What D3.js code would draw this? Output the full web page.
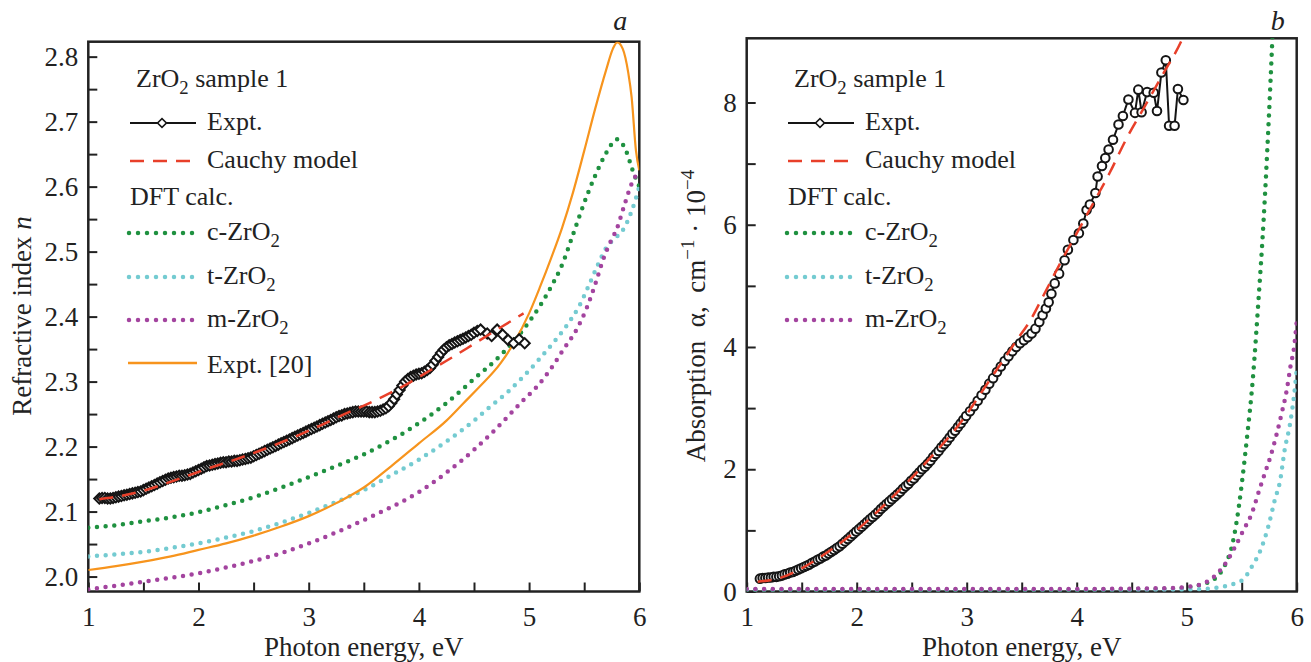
<!DOCTYPE html>
<html>
<head>
<meta charset="utf-8">
<script src="https://cdn.jsdelivr.net/npm/d3@7"></script>
<style>
  body { margin: 0; background: #fff; }
  svg { display: block; font-family: "Liberation Serif", "Times New Roman", serif; }
  text { white-space: pre; }
</style>
</head>
<body>
<div id="container"></div>
<script>
/* CONSTANTS AND GLOBALS */
const width = 1311, height = 662

const colors = { expt: "#151515", cauchy: "#e8402a", c: "#1f9140", t: "#74cbd1", m: "#a3449f", lit: "#f7941d" }

/* TICKS */
const energyTicks = [1, 2, 3, 4, 5, 6]
const energyMinor = [1.5, 2.5, 3.5, 4.5, 5.5]
const nTicks = [2.0, 2.1, 2.2, 2.3, 2.4, 2.5, 2.6, 2.7, 2.8]
const nMinor = [2.05, 2.15, 2.25, 2.35, 2.45, 2.55, 2.65, 2.75]
const aTicks = [0, 2, 4, 6, 8]
const aMinor = [1, 3, 5, 7]

/* DATA panel a : refractive index n, [energy eV, n] */
const nExpt = [[1.100,2.120],[1.125,2.121],[1.150,2.121],[1.175,2.120],[1.200,2.120],[1.225,2.121],[1.250,2.122],[1.275,2.123],[1.300,2.124],[1.325,2.125],[1.350,2.126],[1.375,2.127],[1.400,2.128],[1.425,2.129],[1.450,2.130],[1.475,2.131],[1.500,2.133],[1.525,2.135],[1.550,2.137],[1.575,2.139],[1.600,2.141],[1.625,2.143],[1.650,2.145],[1.675,2.147],[1.700,2.149],[1.725,2.151],[1.750,2.152],[1.775,2.153],[1.800,2.154],[1.825,2.155],[1.850,2.155],[1.875,2.156],[1.900,2.157],[1.925,2.158],[1.950,2.160],[1.975,2.162],[2.000,2.164],[2.025,2.166],[2.050,2.168],[2.075,2.170],[2.100,2.171],[2.125,2.172],[2.150,2.173],[2.175,2.174],[2.200,2.175],[2.225,2.176],[2.250,2.176],[2.275,2.177],[2.300,2.177],[2.325,2.178],[2.350,2.178],[2.375,2.179],[2.400,2.180],[2.425,2.181],[2.450,2.182],[2.475,2.183],[2.500,2.185],[2.525,2.187],[2.550,2.189],[2.575,2.191],[2.600,2.193],[2.625,2.195],[2.650,2.197],[2.675,2.199],[2.700,2.201],[2.725,2.203],[2.750,2.205],[2.775,2.207],[2.800,2.209],[2.825,2.211],[2.850,2.213],[2.875,2.215],[2.900,2.217],[2.925,2.219],[2.950,2.221],[2.975,2.223],[3.000,2.225],[3.025,2.227],[3.050,2.229],[3.075,2.231],[3.100,2.233],[3.125,2.235],[3.150,2.237],[3.175,2.239],[3.200,2.241],[3.225,2.243],[3.250,2.245],[3.275,2.247],[3.300,2.248],[3.325,2.250],[3.350,2.251],[3.375,2.252],[3.400,2.253],[3.425,2.254],[3.450,2.254],[3.475,2.254],[3.500,2.254],[3.525,2.254],[3.550,2.253],[3.575,2.253],[3.600,2.253],[3.625,2.254],[3.650,2.255],[3.675,2.257],[3.700,2.259],[3.725,2.262],[3.750,2.267],[3.775,2.273],[3.800,2.280],[3.825,2.287],[3.850,2.294],[3.875,2.300],[3.900,2.304],[3.925,2.307],[3.950,2.309],[3.975,2.311],[4.000,2.312],[4.025,2.313],[4.050,2.315],[4.075,2.318],[4.100,2.321],[4.125,2.326],[4.150,2.332],[4.175,2.338],[4.200,2.344],[4.225,2.349],[4.250,2.353],[4.275,2.356],[4.300,2.358],[4.325,2.360],[4.350,2.362],[4.375,2.364],[4.400,2.366],[4.425,2.368],[4.450,2.370],[4.475,2.372],[4.500,2.375],[4.530,2.378],[4.560,2.380],[4.620,2.374],[4.660,2.370],[4.710,2.380],[4.760,2.372],[4.810,2.364],[4.860,2.359],[4.910,2.365],[4.960,2.359]]
const nCauchy = [[1.10,2.119],[1.30,2.124],[1.50,2.132],[1.70,2.143],[1.90,2.155],[2.10,2.167],[2.30,2.178],[2.50,2.190],[2.70,2.203],[2.90,2.217],[3.10,2.232],[3.30,2.248],[3.50,2.263],[3.70,2.279],[3.90,2.297],[4.10,2.317],[4.30,2.337],[4.50,2.358],[4.70,2.379],[4.95,2.405]]
const nCubic = [[1.00,2.075],[1.25,2.079],[1.50,2.085],[1.75,2.091],[2.00,2.099],[2.25,2.110],[2.50,2.122],[2.75,2.137],[3.00,2.153],[3.25,2.170],[3.50,2.188],[3.75,2.210],[4.00,2.236],[4.25,2.267],[4.50,2.304],[4.75,2.342],[5.00,2.392],[5.10,2.417],[5.20,2.446],[5.30,2.480],[5.40,2.527],[5.50,2.575],[5.60,2.617],[5.70,2.652],[5.80,2.673],[5.88,2.655],[5.94,2.625],[6.00,2.600]]
const nTetra = [[1.00,2.031],[1.25,2.034],[1.50,2.038],[1.75,2.044],[2.00,2.051],[2.25,2.060],[2.50,2.070],[2.75,2.083],[3.00,2.098],[3.25,2.115],[3.50,2.133],[3.75,2.156],[4.00,2.180],[4.25,2.208],[4.50,2.240],[4.65,2.262],[4.80,2.283],[4.95,2.308],[5.10,2.336],[5.22,2.360],[5.34,2.386],[5.46,2.418],[5.55,2.451],[5.63,2.482],[5.70,2.506],[5.77,2.519],[5.85,2.533],[5.93,2.562],[6.00,2.600]]
const nMono = [[1.00,1.980],[1.25,1.986],[1.50,1.992],[1.75,1.998],[2.00,2.005],[2.25,2.014],[2.50,2.024],[2.75,2.036],[3.00,2.051],[3.25,2.068],[3.50,2.087],[3.75,2.107],[4.00,2.130],[4.25,2.160],[4.50,2.195],[4.65,2.219],[4.80,2.245],[4.95,2.272],[5.07,2.292],[5.19,2.318],[5.31,2.349],[5.43,2.380],[5.52,2.412],[5.61,2.455],[5.67,2.487],[5.73,2.512],[5.80,2.537],[5.86,2.569],[5.92,2.600],[6.00,2.625]]
const nLit = [[1.00,2.010],[1.25,2.016],[1.50,2.023],[1.75,2.031],[2.00,2.041],[2.25,2.051],[2.50,2.063],[2.75,2.077],[3.00,2.093],[3.25,2.113],[3.50,2.137],[3.75,2.170],[4.00,2.205],[4.25,2.240],[4.40,2.266],[4.55,2.292],[4.74,2.328],[4.86,2.359],[5.00,2.405],[5.10,2.446],[5.20,2.490],[5.30,2.537],[5.40,2.592],[5.50,2.655],[5.60,2.720],[5.70,2.780],[5.76,2.812],[5.80,2.822],[5.85,2.812],[5.90,2.775],[5.93,2.738],[5.97,2.655],[6.00,2.625]]

/* DATA panel b : absorption, [energy eV, alpha * 1e-4 cm^-1] */
const aExpt = [[1.120,0.21],[1.145,0.22],[1.170,0.22],[1.195,0.23],[1.220,0.23],[1.245,0.24],[1.270,0.24],[1.295,0.25],[1.320,0.26],[1.345,0.28],[1.370,0.29],[1.395,0.31],[1.420,0.32],[1.445,0.34],[1.470,0.36],[1.495,0.38],[1.520,0.40],[1.545,0.42],[1.570,0.44],[1.595,0.47],[1.620,0.49],[1.645,0.52],[1.670,0.54],[1.695,0.57],[1.720,0.59],[1.745,0.62],[1.770,0.65],[1.795,0.68],[1.820,0.71],[1.845,0.74],[1.870,0.78],[1.895,0.82],[1.920,0.86],[1.945,0.90],[1.970,0.94],[1.995,0.98],[2.020,1.02],[2.045,1.06],[2.070,1.10],[2.095,1.14],[2.120,1.18],[2.145,1.22],[2.170,1.26],[2.195,1.30],[2.220,1.35],[2.245,1.39],[2.270,1.43],[2.295,1.47],[2.320,1.51],[2.345,1.55],[2.370,1.59],[2.395,1.63],[2.420,1.68],[2.445,1.72],[2.470,1.76],[2.495,1.81],[2.520,1.85],[2.545,1.90],[2.570,1.95],[2.595,2.00],[2.620,2.04],[2.645,2.09],[2.670,2.14],[2.695,2.20],[2.720,2.25],[2.745,2.30],[2.770,2.36],[2.795,2.41],[2.820,2.46],[2.845,2.52],[2.870,2.58],[2.895,2.63],[2.920,2.69],[2.945,2.75],[2.970,2.81],[2.995,2.87],[3.030,2.95],[3.065,3.03],[3.100,3.12],[3.135,3.21],[3.170,3.30],[3.205,3.40],[3.240,3.49],[3.275,3.59],[3.310,3.68],[3.345,3.77],[3.380,3.85],[3.415,3.93],[3.450,4.00],[3.485,4.06],[3.520,4.11],[3.555,4.16],[3.590,4.22],[3.625,4.30],[3.660,4.41],[3.690,4.52],[3.720,4.63],[3.745,4.73],[3.770,4.87],[3.800,5.04],[3.840,5.20],[3.890,5.42],[3.920,5.59],[3.970,5.75],[4.020,5.86],[4.060,6.02],[4.090,6.24],[4.120,6.33],[4.170,6.52],[4.190,6.79],[4.230,6.96],[4.260,7.09],[4.290,7.23],[4.330,7.39],[4.380,7.64],[4.420,7.78],[4.470,8.05],[4.530,7.83],[4.560,8.21],[4.590,7.84],[4.640,8.17],[4.700,8.16],[4.730,7.86],[4.770,8.49],[4.810,8.69],[4.840,7.62],[4.890,7.62],[4.920,8.22],[4.970,8.04]]
const aCauchy = [[1.10,0.16],[1.30,0.22],[1.50,0.38],[1.70,0.60],[1.90,0.86],[2.10,1.16],[2.30,1.50],[2.50,1.86],[2.70,2.25],[2.90,2.66],[3.00,2.90],[3.15,3.30],[3.30,3.70],[3.45,4.10],[3.58,4.44],[3.70,4.85],[3.85,5.37],[4.00,5.86],[4.15,6.35],[4.30,6.85],[4.45,7.40],[4.62,7.94],[4.78,8.45],[4.95,9.00],[5.00,9.20]]
const aCubic = [[1.00,0.03],[2.00,0.03],[3.00,0.03],[4.00,0.03],[4.60,0.04],[4.90,0.05],[5.05,0.08],[5.15,0.12],[5.22,0.17],[5.30,0.29],[5.36,0.48],[5.41,0.73],[5.45,1.10],[5.50,1.75],[5.55,2.55],[5.60,3.45],[5.65,4.70],[5.70,6.10],[5.74,7.50],[5.78,9.10],[5.80,10.0]]
const aTetra = [[1.00,0.02],[2.00,0.02],[3.00,0.02],[4.00,0.02],[5.00,0.03],[5.21,0.05],[5.36,0.09],[5.45,0.14],[5.50,0.18],[5.55,0.28],[5.59,0.40],[5.67,0.67],[5.74,1.05],[5.80,1.49],[5.85,1.82],[5.89,2.31],[5.94,2.75],[5.985,3.35],[6.00,3.62]]
const aMono = [[1.00,0.04],[2.00,0.04],[3.00,0.04],[4.00,0.04],[4.60,0.05],[4.90,0.06],[5.03,0.08],[5.15,0.13],[5.26,0.26],[5.36,0.48],[5.44,0.73],[5.515,1.00],[5.59,1.27],[5.66,1.66],[5.71,1.93],[5.76,2.20],[5.82,2.59],[5.86,2.89],[5.91,3.30],[5.945,3.70],[5.975,3.98],[6.00,4.41]]

/* CREATE SVG ELEMENT */
const svg = d3.select("#container")
  .append("svg")
  .attr("width", width)
  .attr("height", height)

svg.append("rect").attr("width", width).attr("height", height).attr("fill", "#fff")

// builds frame, axes, clip; returns scales and group for the curves
function drawPanel(p) {
  const x = d3.scaleLinear().domain([1, 6]).range([p.left, p.right])
  const y = d3.scaleLinear().domain(p.yDomain).range([p.bottom, p.top])
  const g = svg.append("g")

  g.append("clipPath").attr("id", p.id + "-clip")
    .append("rect")
    .attr("x", p.left).attr("y", p.top)
    .attr("width", p.right - p.left).attr("height", p.bottom - p.top)

  const xAxis = d3.axisBottom(x)
    .tickValues(energyTicks.concat(energyMinor))
    .tickFormat(d => energyTicks.includes(d) ? d : "")
    .tickSizeInner(-9).tickSizeOuter(0).tickPadding(15)
  const xAxisGroup = g.append("g")
    .attr("transform", `translate(0, ${p.bottom})`)
    .call(xAxis)

  const yAxis = d3.axisLeft(y)
    .tickValues(p.yTicks.concat(p.yMinor))
    .tickFormat(d => p.yTicks.includes(d) ? p.fmt(d) : "")
    .tickSizeInner(-9).tickSizeOuter(0).tickPadding(10)
  const yAxisGroup = g.append("g")
    .attr("transform", `translate(${p.left}, 0)`)
    .call(yAxis)

  ;[xAxisGroup, yAxisGroup].forEach(a => {
    a.attr("font-family", null).attr("font-size", null)
    a.select(".domain").remove()
    a.selectAll(".tick line").attr("stroke", "#222").attr("stroke-width", 2)
    a.selectAll(".tick text").attr("fill", "#222").style("font-size", "27px")
  })

  g.append("rect")
    .attr("x", p.left).attr("y", p.top)
    .attr("width", p.right - p.left).attr("height", p.bottom - p.top)
    .attr("fill", "none").attr("stroke", "#222").attr("stroke-width", 2.5)

  g.append("text")
    .text("Photon energy, eV")
    .attr("x", (p.left + p.right) / 2).attr("y", 656)
    .attr("text-anchor", "middle")
    .style("font-size", "27px").attr("fill", "#222")

  g.append("text")
    .attr("text-anchor", "end")
    .attr("x", p.right - 12).attr("y", 30)
    .style("font-size", "28px").style("font-style", "italic").attr("fill", "#222")
    .text(p.letter)

  const plot = svg.append("g").attr("clip-path", `url(#${p.id}-clip)`)
  return { x, y, g, plot }
}

const line = (x, y, curve) => d3.line().x(d => x(d[0])).y(d => y(d[1])).curve(curve)

function dotted(sel, data, x, y, color) {
  sel.append("path").datum(data)
    .attr("fill", "none").attr("stroke", color)
    .attr("stroke-width", 4.5).attr("stroke-linecap", "round")
    .attr("stroke-dasharray", "0 8.7")
    .attr("d", line(x, y, d3.curveMonotoneX))
}

function chem(g, x, y, before, after, size) {
  const t = g.append("text").attr("x", x).attr("y", y)
    .style("font-size", size + "px").attr("fill", "#222")
  t.append("tspan").text(before)
  t.append("tspan").attr("dy", 7).style("font-size", (size * 0.72) + "px").text("2")
  if (after) t.append("tspan").attr("dy", -7).text(after)
  return t
}

const diamond = d3.symbol(d3.symbolSquare, 40)
const bigDiamond = d3.symbol(d3.symbolSquare, 52)

function legend(g, lx, entries) {
  // lx: left of sample line; text starts 77 px later
  const tx = lx + 77, fs = 26
  chem(g, lx + 6, 87, "ZrO", " sample 1", fs)

  g.append("line").attr("x1", lx).attr("x2", lx + 66).attr("y1", 123).attr("y2", 123)
    .attr("stroke", colors.expt).attr("stroke-width", 2)
  g.append("path").attr("d", diamond)
    .attr("transform", `translate(${lx + 32},123) rotate(45)`)
    .attr("fill", "#fff").attr("stroke", colors.expt).attr("stroke-width", 1.6)
  g.append("text").attr("x", tx).attr("y", 130).style("font-size", fs + "px").attr("fill", "#222").text("Expt.")

  g.append("line").attr("x1", lx).attr("x2", lx + 60).attr("y1", 161).attr("y2", 161)
    .attr("stroke", colors.cauchy).attr("stroke-width", 2.5).attr("stroke-dasharray", "14 9")
  g.append("text").attr("x", tx).attr("y", 168).style("font-size", fs + "px").attr("fill", "#222").text("Cauchy model")

  g.append("text").attr("x", lx).attr("y", 205).style("font-size", fs + "px").attr("fill", "#222").text("DFT calc.")

  const dftRows = [["c-ZrO", colors.c, 233], ["t-ZrO", colors.t, 277], ["m-ZrO", colors.m, 320]]
  dftRows.forEach(([label, color, yy]) => {
    g.append("line").attr("x1", lx - 1).attr("x2", lx + 63).attr("y1", yy).attr("y2", yy)
      .attr("stroke", color).attr("stroke-width", 4.5).attr("stroke-linecap", "round")
      .attr("stroke-dasharray", "0 9")
    chem(g, tx, yy + 7, label, null, fs)
  })

  if (entries.lit) {
    g.append("line").attr("x1", lx - 2).attr("x2", lx + 67).attr("y1", 363).attr("y2", 363)
      .attr("stroke", colors.lit).attr("stroke-width", 2.5)
    g.append("text").attr("x", tx).attr("y", 373).style("font-size", fs + "px").attr("fill", "#222").text("Expt. [20]")
  }
}

/* PANEL a */
const pa = drawPanel({
  id: "pa", letter: "a",
  left: 88.3, right: 639.3, top: 41.7, bottom: 591.5,
  yDomain: [1.977, 2.823], yTicks: nTicks, yMinor: nMinor, fmt: d3.format(".1f")
})

pa.g.append("text")
  .attr("transform", "translate(31, 316) rotate(-90)")
  .attr("text-anchor", "middle").style("font-size", "27px").attr("fill", "#222")
  .call(t => {
    t.append("tspan").text("Refractive index ")
    t.append("tspan").style("font-style", "italic").text("n")
  })

dotted(pa.plot, nCubic, pa.x, pa.y, colors.c)
dotted(pa.plot, nTetra, pa.x, pa.y, colors.t)
dotted(pa.plot, nMono, pa.x, pa.y, colors.m)

pa.plot.append("path").datum(nLit)
  .attr("fill", "none").attr("stroke", colors.lit).attr("stroke-width", 2.2)
  .attr("d", line(pa.x, pa.y, d3.curveMonotoneX))

pa.plot.append("path").datum(nExpt)
  .attr("fill", "none").attr("stroke", colors.expt).attr("stroke-width", 2)
  .attr("d", line(pa.x, pa.y, d3.curveLinear))

pa.plot.selectAll(".mk").data(nExpt).join("path")
  .attr("class", "mk")
  .attr("d", bigDiamond)
  .attr("transform", d => `translate(${pa.x(d[0])},${pa.y(d[1])}) rotate(45)`)
  .attr("fill", "#fff").attr("stroke", colors.expt).attr("stroke-width", 2)

pa.plot.append("path").datum(nCauchy)
  .attr("fill", "none").attr("stroke", colors.cauchy).attr("stroke-width", 2.5)
  .attr("stroke-dasharray", "14 9")
  .attr("d", line(pa.x, pa.y, d3.curveMonotoneX))

legend(pa.g, 130, { lit: true })

/* PANEL b */
const pb = drawPanel({
  id: "pb", letter: "b",
  left: 746.7, right: 1296.7, top: 38.3, bottom: 591.5,
  yDomain: [0, 9.05], yTicks: aTicks, yMinor: aMinor, fmt: d3.format("d")
})

pb.g.append("text")
  .attr("transform", "translate(705, 316) rotate(-90)")
  .attr("text-anchor", "middle").style("font-size", "27px").attr("fill", "#222")
  .call(t => {
    t.append("tspan").text("Absorption  α,  cm")
    t.append("tspan").attr("dy", -11).style("font-size", "19px").text("−1")
    t.append("tspan").attr("dy", 11).text(" · 10")
    t.append("tspan").attr("dy", -11).style("font-size", "19px").text("−4")
  })

dotted(pb.plot, aCubic, pb.x, pb.y, colors.c)
dotted(pb.plot, aTetra, pb.x, pb.y, colors.t)
dotted(pb.plot, aMono, pb.x, pb.y, colors.m)

pb.plot.append("path").datum(aExpt)
  .attr("fill", "none").attr("stroke", colors.expt).attr("stroke-width", 2)
  .attr("d", line(pb.x, pb.y, d3.curveLinear))

pb.plot.selectAll(".mk").data(aExpt).join("circle")
  .attr("class", "mk")
  .attr("cx", d => pb.x(d[0])).attr("cy", d => pb.y(d[1])).attr("r", 4.3)
  .attr("fill", "#fff").attr("stroke", colors.expt).attr("stroke-width", 2)

pb.plot.append("path").datum(aCauchy)
  .attr("fill", "none").attr("stroke", colors.cauchy).attr("stroke-width", 2.5)
  .attr("stroke-dasharray", "14 9")
  .attr("d", line(pb.x, pb.y, d3.curveMonotoneX))

legend(pb.g, 788, { lit: false })
</script>
</body>
</html>
